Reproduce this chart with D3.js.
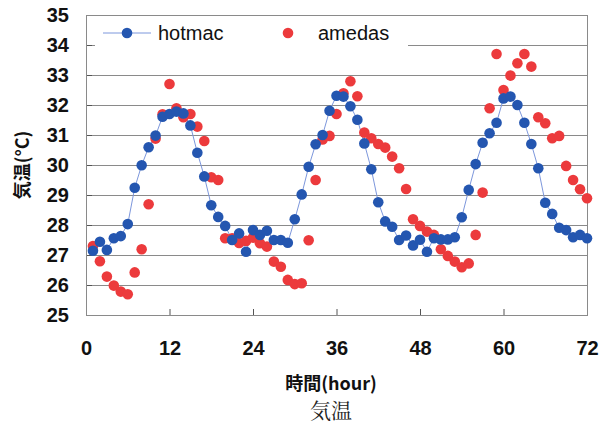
<!DOCTYPE html>
<html>
<head>
<meta charset="utf-8">
<script src="https://cdn.jsdelivr.net/npm/d3@7"></script>
<style>
  body { margin: 0; background: #fff; }
  text { font-family: "Liberation Sans", Arial, sans-serif; }
</style>
</head>
<body>
<div id="chart"></div>
<script>
var svgWidth = 614;
var svgHeight = 425;

var margin = { top: 15, right: 27, bottom: 110, left: 86 };
var width = svgWidth - margin.left - margin.right;
var height = svgHeight - margin.top - margin.bottom;

// hours 1..72
var hours = d3.range(1, 73);

var hotmac = [
  27.14, 27.44, 27.17, 27.56, 27.63, 28.03, 29.24, 29.99, 30.59, 30.98, 31.61, 31.70,
  31.78, 31.72, 31.32, 30.41, 29.62, 28.66, 28.27, 27.97, 27.50, 27.72, 27.11, 27.83,
  27.67, 27.81, 27.50, 27.50, 27.41, 28.19, 29.02, 29.94, 30.69, 31.00, 31.81, 32.31,
  32.28, 31.96, 31.51, 30.72, 29.86, 28.76, 28.12, 27.94, 27.50, 27.65, 27.32, 27.51,
  27.11, 27.56, 27.52, 27.52, 27.59, 28.26, 29.17, 30.03, 30.74, 31.06, 31.41, 32.22,
  32.28, 32.00, 31.41, 30.70, 29.89, 28.74, 28.37, 27.91, 27.83, 27.59, 27.67, 27.56
];

var amedas = [
  27.30, 26.79, 26.28, 25.98, 25.78, 25.69, 26.42, 27.19, 28.69, 30.88, 31.69, 32.70,
  31.89, 31.59, 31.70, 31.28, 30.80, 29.59, 29.50, 27.56, 27.56, 27.40, 27.47, 27.58,
  27.39, 27.28, 26.78, 26.61, 26.17, 26.03, 26.06, 27.49, 29.50, 30.85, 30.97, 31.70,
  32.39, 32.79, 32.29, 31.08, 30.89, 30.70, 30.58, 30.28, 29.89, 29.20, 28.19, 27.97,
  27.78, 27.67, 27.19, 26.97, 26.78, 26.59, 26.72, 27.67, 29.08, 31.89, 33.70, 32.50,
  32.98, 33.39, 33.70, 33.28, 31.59, 31.39, 30.89, 30.97, 29.97, 29.50, 29.19, 28.89
];

var xTicks = [0, 12, 24, 36, 48, 60, 72];
var yTicks = [25, 26, 27, 28, 29, 30, 31, 32, 33, 34, 35];
var seriesNames = ["hotmac", "amedas"];

var blue = "#2456b0";
var red = "#ec3a3c";
var lineColor = "#7d97dc";
var gridColor = "#8a8a8a";

var svg = d3.select("#chart")
  .append("svg")
  .attr("width", svgWidth)
  .attr("height", svgHeight);

var chartGroup = svg.append("g")
  .attr("transform", `translate(${margin.left}, ${margin.top})`);

var x = d3.scaleLinear().domain([0, 72]).range([0, width]);
var y = d3.scaleLinear().domain([25, 35]).range([height, 0]);

// gridlines
chartGroup.append("g")
  .selectAll("line")
  .data(yTicks.slice(1, -1))
  .enter()
  .append("line")
  .attr("x1", 0)
  .attr("x2", width)
  .attr("y1", d => Math.round(y(d)) + 0.5)
  .attr("y2", d => Math.round(y(d)) + 0.5)
  .attr("stroke", gridColor)
  .attr("stroke-width", 1);

// legend box (covers part of the 34 gridline)
chartGroup.append("rect")
  .attr("x", 9)
  .attr("y", 4)
  .attr("width", 313)
  .attr("height", 34)
  .attr("fill", "#fff");

// x axis, ticks pointing into the plot
var bottomAxis = d3.axisBottom(x).tickValues(xTicks).tickSize(-6).tickPadding(22)
  .tickFormat(d3.format("d"));
var xAxis = chartGroup.append("g")
  .attr("transform", `translate(0, ${height})`)
  .call(bottomAxis);
xAxis.select(".domain").remove();
xAxis.selectAll(".tick line").attr("stroke", "#555");
xAxis.selectAll("text")
  .attr("fill", "#111")
  .style("font-size", "20px")
  .style("font-weight", "bold")
  .attr("dy", "0.9em");

// y axis
var leftAxis = d3.axisLeft(y).tickValues(yTicks).tickSize(-6).tickPadding(17);
var yAxis = chartGroup.append("g").call(leftAxis);
yAxis.select(".domain").remove();
yAxis.selectAll(".tick line").attr("stroke", "#555");
yAxis.selectAll("text")
  .attr("fill", "#111")
  .style("font-size", "20px")
  .style("font-weight", "bold");

// plot border
chartGroup.append("rect")
  .attr("x", 0.5)
  .attr("y", 0.5)
  .attr("width", width)
  .attr("height", height)
  .attr("fill", "none")
  .attr("stroke", gridColor)
  .attr("stroke-width", 1);

// hotmac line
var line = d3.line()
  .x((d, i) => x(hours[i]))
  .y(d => y(d));

chartGroup.append("path")
  .datum(hotmac)
  .attr("d", line)
  .attr("fill", "none")
  .attr("stroke", lineColor)
  .attr("stroke-width", 1);

// amedas points
chartGroup.append("g")
  .selectAll("circle")
  .data(amedas)
  .enter()
  .append("circle")
  .attr("cx", (d, i) => x(hours[i]))
  .attr("cy", d => y(d))
  .attr("r", 5.3)
  .attr("fill", red);

// hotmac points
chartGroup.append("g")
  .selectAll("circle")
  .data(hotmac)
  .enter()
  .append("circle")
  .attr("cx", (d, i) => x(hours[i]))
  .attr("cy", d => y(d))
  .attr("r", 5.3)
  .attr("fill", blue);

// legend
var legend = chartGroup.append("g").attr("transform", "translate(0, 18)");
legend.append("line")
  .attr("x1", 17).attr("x2", 65)
  .attr("y1", 0).attr("y2", 0)
  .attr("stroke", lineColor);
legend.append("circle").attr("cx", 41).attr("cy", 0).attr("r", 5.3).attr("fill", blue);
legend.append("text")
  .attr("x", 72).attr("y", 7)
  .style("font-size", "20px")
  .attr("fill", "#111")
  .text(seriesNames[0]);
legend.append("circle").attr("cx", 202).attr("cy", 0).attr("r", 5.3).attr("fill", red);
legend.append("text")
  .attr("x", 232).attr("y", 7)
  .style("font-size", "20px")
  .attr("fill", "#111")
  .text(seriesNames[1]);

// axis titles
svg.append("text")
  .attr("transform", "translate(29, 165) rotate(-90)")
  .attr("text-anchor", "middle")
  .style("font-family", "'Noto Sans CJK JP', sans-serif")
  .style("font-size", "18px")
  .style("font-weight", "bold")
  .attr("fill", "#111")
  .text("気温(°C)");

svg.append("text")
  .attr("x", 331)
  .attr("y", 390)
  .attr("text-anchor", "middle")
  .style("font-family", "'Noto Sans CJK JP', sans-serif")
  .style("font-size", "18px")
  .style("font-weight", "bold")
  .attr("fill", "#111")
  .text("時間(hour)");

svg.append("text")
  .attr("x", 331)
  .attr("y", 418)
  .attr("text-anchor", "middle")
  .style("font-family", "'Noto Serif CJK JP', 'Noto Sans CJK JP', serif")
  .style("font-size", "21px")
  .attr("fill", "#222")
  .text("気温");
</script>
</body>
</html>
